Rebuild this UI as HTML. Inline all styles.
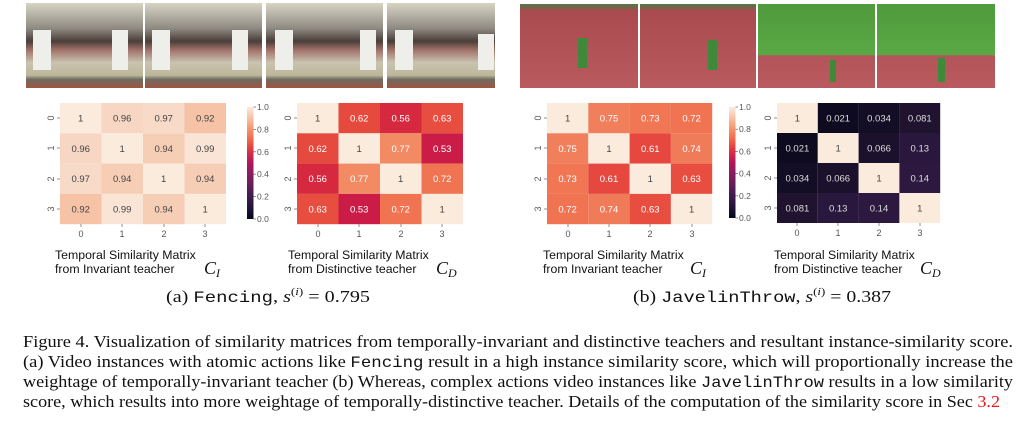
<!DOCTYPE html>
<html><head><meta charset="utf-8"><style>
html,body{margin:0;padding:0;background:#fff;width:1024px;height:425px;overflow:hidden}
svg{display:block}
.s{font-family:"Liberation Sans",sans-serif}
.r{font-family:"Liberation Serif",serif}
.m{font-family:"Liberation Mono",monospace}
</style></head><body>
<svg width="1024" height="425" viewBox="0 0 1024 425" xmlns="http://www.w3.org/2000/svg">
<defs>
<linearGradient id="rk" x1="0" y1="1" x2="0" y2="0">
<stop offset="0" stop-color="#03051a"/><stop offset="0.1" stop-color="#231538"/>
<stop offset="0.2" stop-color="#3f1b4e"/><stop offset="0.3" stop-color="#631e5b"/>
<stop offset="0.4" stop-color="#891d5f"/><stop offset="0.5" stop-color="#b1175a"/>
<stop offset="0.6" stop-color="#d92f45"/><stop offset="0.7" stop-color="#ef6445"/>
<stop offset="0.8" stop-color="#f5936c"/><stop offset="0.9" stop-color="#f6c1a3"/>
<stop offset="1" stop-color="#faebdd"/>
</linearGradient>
<linearGradient id="fen" x1="0" y1="0" x2="0" y2="1">
<stop offset="0" stop-color="#d8d4c4"/><stop offset="0.3" stop-color="#8e8a82"/>
<stop offset="0.45" stop-color="#4a3e38"/><stop offset="0.55" stop-color="#a07068"/>
<stop offset="0.7" stop-color="#c9c3b0"/><stop offset="0.85" stop-color="#bcb79a"/>
<stop offset="0.9" stop-color="#6e6a60"/><stop offset="1" stop-color="#a0553f"/>
</linearGradient>
<linearGradient id="jav1" x1="0" y1="0" x2="0" y2="1">
<stop offset="0" stop-color="#4d7a45"/><stop offset="0.08" stop-color="#a84a4e"/>
<stop offset="1" stop-color="#b85a5e"/>
</linearGradient>
<linearGradient id="jav2" x1="0" y1="0" x2="0" y2="1">
<stop offset="0" stop-color="#4f9a3c"/><stop offset="0.6" stop-color="#5aa845"/>
<stop offset="0.62" stop-color="#b25458"/><stop offset="1" stop-color="#b85a5e"/>
</linearGradient>
</defs>

<g>
<rect x="26" y="3" width="117" height="85" fill="url(#fen)"/>
<rect x="145" y="3" width="117" height="85" fill="url(#fen)"/>
<rect x="266" y="3" width="117" height="85" fill="url(#fen)"/>
<rect x="387" y="3" width="108" height="85" fill="url(#fen)"/>
<g fill="#eeeeea">
<rect x="33" y="30" width="18" height="40"/><rect x="112" y="30" width="16" height="40"/>
<rect x="152" y="30" width="18" height="40"/><rect x="232" y="30" width="16" height="40"/>
<rect x="275" y="30" width="18" height="40"/><rect x="360" y="30" width="16" height="40"/>
<rect x="395" y="30" width="18" height="40"/><rect x="478" y="34" width="16" height="36"/>
</g>
<rect x="520" y="4" width="118" height="84" fill="url(#jav1)"/>
<rect x="640" y="4" width="116" height="84" fill="url(#jav1)"/>
<rect x="758" y="4" width="117" height="84" fill="url(#jav2)"/>
<rect x="877" y="4" width="118" height="84" fill="url(#jav2)"/>
<g fill="#3f8a3a"><rect x="578" y="38" width="9" height="30"/><rect x="708" y="40" width="9" height="30"/><rect x="830" y="60" width="6" height="22"/><rect x="938" y="58" width="7" height="24"/></g>
</g>

<g class="s" font-size="9.5" text-anchor="middle">
<g transform="translate(60,103)">
<rect x="0" y="0" width="41.5" height="30.3" fill="#faebdd"/><rect x="41.5" y="0" width="41.5" height="30.3" fill="#f7d6c3"/><rect x="83" y="0" width="41.5" height="30.3" fill="#f7dac8"/><rect x="124.5" y="0" width="41.5" height="30.3" fill="#f6c3a7"/>
<rect x="0" y="30.3" width="41.5" height="30.3" fill="#f7d6c3"/><rect x="41.5" y="30.3" width="41.5" height="30.3" fill="#faebdd"/><rect x="83" y="30.3" width="41.5" height="30.3" fill="#f6ceb6"/><rect x="124.5" y="30.3" width="41.5" height="30.3" fill="#f9e4d5"/>
<rect x="0" y="60.6" width="41.5" height="30.3" fill="#f7dac8"/><rect x="41.5" y="60.6" width="41.5" height="30.3" fill="#f6ceb6"/><rect x="83" y="60.6" width="41.5" height="30.3" fill="#faebdd"/><rect x="124.5" y="60.6" width="41.5" height="30.3" fill="#f6ceb6"/>
<rect x="0" y="90.9" width="41.5" height="30.3" fill="#f6c3a7"/><rect x="41.5" y="90.9" width="41.5" height="30.3" fill="#f9e4d5"/><rect x="83" y="90.9" width="41.5" height="30.3" fill="#f6ceb6"/><rect x="124.5" y="90.9" width="41.5" height="30.3" fill="#faebdd"/>
<g fill="#444">
<text x="20.7" y="18.5">1</text><text x="62.2" y="18.5">0.96</text><text x="103.7" y="18.5">0.97</text><text x="145.2" y="18.5">0.92</text>
<text x="20.7" y="48.8">0.96</text><text x="62.2" y="48.8">1</text><text x="103.7" y="48.8">0.94</text><text x="145.2" y="48.8">0.99</text>
<text x="20.7" y="79.1">0.97</text><text x="62.2" y="79.1">0.94</text><text x="103.7" y="79.1">1</text><text x="145.2" y="79.1">0.94</text>
<text x="20.7" y="109.4">0.92</text><text x="62.2" y="109.4">0.99</text><text x="103.7" y="109.4">0.94</text><text x="145.2" y="109.4">1</text>
</g>
</g>
<g transform="translate(297,103)">
<rect x="0" y="0" width="41.5" height="30.3" fill="#faebdd"/><rect x="41.5" y="0" width="41.5" height="30.3" fill="#e64a3e"/><rect x="83" y="0" width="41.5" height="30.3" fill="#d6283e"/><rect x="124.5" y="0" width="41.5" height="30.3" fill="#e74e3f"/>
<rect x="0" y="30.3" width="41.5" height="30.3" fill="#e64a3e"/><rect x="41.5" y="30.3" width="41.5" height="30.3" fill="#faebdd"/><rect x="83" y="30.3" width="41.5" height="30.3" fill="#f28a64"/><rect x="124.5" y="30.3" width="41.5" height="30.3" fill="#cb1c47"/>
<rect x="0" y="60.6" width="41.5" height="30.3" fill="#d6283e"/><rect x="41.5" y="60.6" width="41.5" height="30.3" fill="#f28a64"/><rect x="83" y="60.6" width="41.5" height="30.3" fill="#faebdd"/><rect x="124.5" y="60.6" width="41.5" height="30.3" fill="#f07352"/>
<rect x="0" y="90.9" width="41.5" height="30.3" fill="#e74e3f"/><rect x="41.5" y="90.9" width="41.5" height="30.3" fill="#cb1c47"/><rect x="83" y="90.9" width="41.5" height="30.3" fill="#f07352"/><rect x="124.5" y="90.9" width="41.5" height="30.3" fill="#faebdd"/>
<g fill="#fff">
<text x="20.7" y="18.5" fill="#444">1</text><text x="62.2" y="18.5">0.62</text><text x="103.7" y="18.5">0.56</text><text x="145.2" y="18.5">0.63</text>
<text x="20.7" y="48.8">0.62</text><text x="62.2" y="48.8" fill="#444">1</text><text x="103.7" y="48.8">0.77</text><text x="145.2" y="48.8">0.53</text>
<text x="20.7" y="79.1">0.56</text><text x="62.2" y="79.1">0.77</text><text x="103.7" y="79.1" fill="#444">1</text><text x="145.2" y="79.1">0.72</text>
<text x="20.7" y="109.4">0.63</text><text x="62.2" y="109.4">0.53</text><text x="103.7" y="109.4">0.72</text><text x="145.2" y="109.4" fill="#444">1</text>
</g>
</g>
<g transform="translate(547,103)">
<rect x="0" y="0" width="41.3" height="30.3" fill="#faebdd"/><rect x="41.3" y="0" width="41.3" height="30.3" fill="#f17f5b"/><rect x="82.6" y="0" width="41.3" height="30.3" fill="#f07654"/><rect x="123.9" y="0" width="41.3" height="30.3" fill="#f07352"/>
<rect x="0" y="30.3" width="41.3" height="30.3" fill="#f17f5b"/><rect x="41.3" y="30.3" width="41.3" height="30.3" fill="#faebdd"/><rect x="82.6" y="30.3" width="41.3" height="30.3" fill="#e6473e"/><rect x="123.9" y="30.3" width="41.3" height="30.3" fill="#f07b58"/>
<rect x="0" y="60.6" width="41.3" height="30.3" fill="#f07654"/><rect x="41.3" y="60.6" width="41.3" height="30.3" fill="#e6473e"/><rect x="82.6" y="60.6" width="41.3" height="30.3" fill="#faebdd"/><rect x="123.9" y="60.6" width="41.3" height="30.3" fill="#e74e3f"/>
<rect x="0" y="90.9" width="41.3" height="30.3" fill="#f07352"/><rect x="41.3" y="90.9" width="41.3" height="30.3" fill="#f07b58"/><rect x="82.6" y="90.9" width="41.3" height="30.3" fill="#e74e3f"/><rect x="123.9" y="90.9" width="41.3" height="30.3" fill="#faebdd"/>
<g fill="#fff">
<text x="20.6" y="18.5" fill="#444">1</text><text x="62" y="18.5">0.75</text><text x="103.3" y="18.5">0.73</text><text x="144.6" y="18.5">0.72</text>
<text x="20.6" y="48.8">0.75</text><text x="62" y="48.8" fill="#444">1</text><text x="103.3" y="48.8">0.61</text><text x="144.6" y="48.8">0.74</text>
<text x="20.6" y="79.1">0.73</text><text x="62" y="79.1">0.61</text><text x="103.3" y="79.1" fill="#444">1</text><text x="144.6" y="79.1">0.63</text>
<text x="20.6" y="109.4">0.72</text><text x="62" y="109.4">0.74</text><text x="103.3" y="109.4">0.63</text><text x="144.6" y="109.4" fill="#444">1</text>
</g>
</g>
<g transform="translate(777,103)">
<rect x="0" y="0" width="40.8" height="30" fill="#faebdd"/><rect x="40.8" y="0" width="40.8" height="30" fill="#0e0b20"/><rect x="81.6" y="0" width="40.8" height="30" fill="#130e25"/><rect x="122.4" y="0" width="40.8" height="30" fill="#20132f"/>
<rect x="0" y="30" width="40.8" height="30" fill="#0e0b20"/><rect x="40.8" y="30" width="40.8" height="30" fill="#faebdd"/><rect x="81.6" y="30" width="40.8" height="30" fill="#1c112d"/><rect x="122.4" y="30" width="40.8" height="30" fill="#2a173d"/>
<rect x="0" y="60" width="40.8" height="30" fill="#130e25"/><rect x="40.8" y="60" width="40.8" height="30" fill="#1c112d"/><rect x="81.6" y="60" width="40.8" height="30" fill="#faebdd"/><rect x="122.4" y="60" width="40.8" height="30" fill="#2d1840"/>
<rect x="0" y="90" width="40.8" height="30" fill="#20132f"/><rect x="40.8" y="90" width="40.8" height="30" fill="#2a173d"/><rect x="81.6" y="90" width="40.8" height="30" fill="#2d1840"/><rect x="122.4" y="90" width="40.8" height="30" fill="#faebdd"/>
<g fill="#ddd">
<text x="20.4" y="18.3" fill="#444">1</text><text x="61.2" y="18.3">0.021</text><text x="102" y="18.3">0.034</text><text x="142.8" y="18.3">0.081</text>
<text x="20.4" y="48.3">0.021</text><text x="61.2" y="48.3" fill="#444">1</text><text x="102" y="48.3">0.066</text><text x="142.8" y="48.3">0.13</text>
<text x="20.4" y="78.3">0.034</text><text x="61.2" y="78.3">0.066</text><text x="102" y="78.3" fill="#444">1</text><text x="142.8" y="78.3">0.14</text>
<text x="20.4" y="108.3">0.081</text><text x="61.2" y="108.3">0.13</text><text x="102" y="108.3">0.14</text><text x="142.8" y="108.3" fill="#444">1</text>
</g>
</g>
</g>

<g class="s" font-size="9" fill="#555" text-anchor="middle">
<g stroke="#777" stroke-width="0.8">
<line x1="57" y1="118" x2="60" y2="118"/><line x1="57" y1="148" x2="60" y2="148"/><line x1="57" y1="179" x2="60" y2="179"/><line x1="57" y1="209" x2="60" y2="209"/>
<line x1="81" y1="224" x2="81" y2="227"/><line x1="122" y1="224" x2="122" y2="227"/><line x1="164" y1="224" x2="164" y2="227"/><line x1="205" y1="224" x2="205" y2="227"/>
<line x1="294" y1="118" x2="297" y2="118"/><line x1="294" y1="148" x2="297" y2="148"/><line x1="294" y1="179" x2="297" y2="179"/><line x1="294" y1="209" x2="297" y2="209"/>
<line x1="318" y1="224" x2="318" y2="227"/><line x1="359" y1="224" x2="359" y2="227"/><line x1="401" y1="224" x2="401" y2="227"/><line x1="442" y1="224" x2="442" y2="227"/>
<line x1="544" y1="118" x2="547" y2="118"/><line x1="544" y1="148" x2="547" y2="148"/><line x1="544" y1="179" x2="547" y2="179"/><line x1="544" y1="209" x2="547" y2="209"/>
<line x1="568" y1="224" x2="568" y2="227"/><line x1="609" y1="224" x2="609" y2="227"/><line x1="650" y1="224" x2="650" y2="227"/><line x1="692" y1="224" x2="692" y2="227"/>
<line x1="774" y1="118" x2="777" y2="118"/><line x1="774" y1="148" x2="777" y2="148"/><line x1="774" y1="178" x2="777" y2="178"/><line x1="774" y1="208" x2="777" y2="208"/>
<line x1="797" y1="223" x2="797" y2="226"/><line x1="838" y1="223" x2="838" y2="226"/><line x1="879" y1="223" x2="879" y2="226"/><line x1="920" y1="223" x2="920" y2="226"/>
</g>
<text x="81" y="237">0</text><text x="122" y="237">1</text><text x="164" y="237">2</text><text x="205" y="237">3</text>
<text x="318" y="237">0</text><text x="359" y="237">1</text><text x="401" y="237">2</text><text x="442" y="237">3</text>
<text x="568" y="237">0</text><text x="609" y="237">1</text><text x="650" y="237">2</text><text x="692" y="237">3</text>
<text x="797" y="236">0</text><text x="838" y="236">1</text><text x="879" y="236">2</text><text x="920" y="236">3</text>
<g>
<text transform="translate(51,118) rotate(-90)" dy="3">0</text><text transform="translate(51,148) rotate(-90)" dy="3">1</text><text transform="translate(51,179) rotate(-90)" dy="3">2</text><text transform="translate(51,209) rotate(-90)" dy="3">3</text>
<text transform="translate(288,118) rotate(-90)" dy="3">0</text><text transform="translate(288,148) rotate(-90)" dy="3">1</text><text transform="translate(288,179) rotate(-90)" dy="3">2</text><text transform="translate(288,209) rotate(-90)" dy="3">3</text>
<text transform="translate(538,118) rotate(-90)" dy="3">0</text><text transform="translate(538,148) rotate(-90)" dy="3">1</text><text transform="translate(538,179) rotate(-90)" dy="3">2</text><text transform="translate(538,209) rotate(-90)" dy="3">3</text>
<text transform="translate(768,118) rotate(-90)" dy="3">0</text><text transform="translate(768,148) rotate(-90)" dy="3">1</text><text transform="translate(768,178) rotate(-90)" dy="3">2</text><text transform="translate(768,208) rotate(-90)" dy="3">3</text>
</g>
</g>

<rect x="247" y="107" width="6.5" height="112" fill="url(#rk)"/>
<rect x="729" y="107" width="6.5" height="111" fill="url(#rk)"/>
<g class="s" font-size="8.5" fill="#555">
<g stroke="#777" stroke-width="0.8">
<line x1="253.5" y1="107" x2="256" y2="107"/><line x1="253.5" y1="129.4" x2="256" y2="129.4"/><line x1="253.5" y1="151.8" x2="256" y2="151.8"/><line x1="253.5" y1="174.2" x2="256" y2="174.2"/><line x1="253.5" y1="196.6" x2="256" y2="196.6"/><line x1="253.5" y1="219" x2="256" y2="219"/>
<line x1="735.5" y1="107" x2="738" y2="107"/><line x1="735.5" y1="129.2" x2="738" y2="129.2"/><line x1="735.5" y1="151.4" x2="738" y2="151.4"/><line x1="735.5" y1="173.6" x2="738" y2="173.6"/><line x1="735.5" y1="195.8" x2="738" y2="195.8"/><line x1="735.5" y1="218" x2="738" y2="218"/>
</g>
<text x="257" y="110">1.0</text><text x="257" y="132.4">0.8</text><text x="257" y="154.8">0.6</text><text x="257" y="177.2">0.4</text><text x="257" y="199.6">0.2</text><text x="257" y="222">0.0</text>
<text x="739" y="110">1.0</text><text x="739" y="132.2">0.8</text><text x="739" y="154.4">0.6</text><text x="739" y="176.6">0.4</text><text x="739" y="198.8">0.2</text><text x="739" y="221">0.0</text>
</g>

<g class="s" font-size="12.3" fill="#111">
<text x="55" y="259">Temporal Similarity Matrix</text><text x="55" y="273">from Invariant teacher</text>
<text x="288" y="259">Temporal Similarity Matrix</text><text x="288" y="273">from Distinctive teacher</text>
<text x="543" y="259">Temporal Similarity Matrix</text><text x="543" y="273">from Invariant teacher</text>
<text x="774" y="259">Temporal Similarity Matrix</text><text x="774" y="273">from Distinctive teacher</text>
</g>
<g class="r" font-size="18" font-style="italic" fill="#111">
<text x="204" y="274">C<tspan font-size="12" dy="3">I</tspan></text>
<text x="436" y="274">C<tspan font-size="12" dy="3">D</tspan></text>
<text x="690" y="274">C<tspan font-size="12" dy="3">I</tspan></text>
<text x="920" y="274">C<tspan font-size="12" dy="3">D</tspan></text>
</g>
<g class="r" font-size="17" fill="#111">
<text x="166" y="302" textLength="204" lengthAdjust="spacingAndGlyphs">(a) <tspan font-family="Liberation Mono" font-size="16">Fencing</tspan>, <tspan font-style="italic">s</tspan><tspan font-size="11" dy="-7">(<tspan font-style="italic">i</tspan>)</tspan><tspan dy="7"> = 0.795</tspan></text>
<text x="633" y="302" textLength="258" lengthAdjust="spacingAndGlyphs">(b) <tspan font-family="Liberation Mono" font-size="16">JavelinThrow</tspan>, <tspan font-style="italic">s</tspan><tspan font-size="11" dy="-7">(<tspan font-style="italic">i</tspan>)</tspan><tspan dy="7"> = 0.387</tspan></text>
</g>
<g class="r" font-size="17" fill="#111">
<text x="23" y="347" textLength="990" lengthAdjust="spacingAndGlyphs">Figure 4.  Visualization of similarity matrices from temporally-invariant and distinctive teachers and resultant instance-similarity score.</text>
<text x="23" y="367" textLength="990" lengthAdjust="spacingAndGlyphs">(a) Video instances with atomic actions like <tspan font-family="Liberation Mono" font-size="16">Fencing</tspan> result in a high instance similarity score, which will proportionally increase the</text>
<text x="23" y="387" textLength="990" lengthAdjust="spacingAndGlyphs">weightage of temporally-invariant teacher (b) Whereas, complex actions video instances like <tspan font-family="Liberation Mono" font-size="16">JavelinThrow</tspan> results in a low similarity</text>
<text x="23" y="407" textLength="977" lengthAdjust="spacingAndGlyphs">score, which results into more weightage of temporally-distinctive teacher. Details of the computation of the similarity score in Sec <tspan fill="#e8161a">3.2</tspan></text>
</g>
</svg>
</body></html>
